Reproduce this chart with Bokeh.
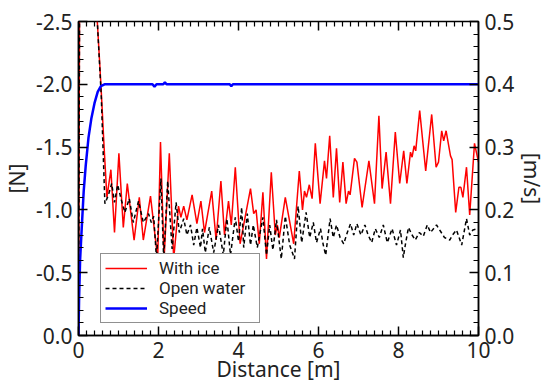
from bokeh.plotting import figure
from bokeh.models import Range1d, LinearAxis, FixedTicker, PrintfTickFormatter, Legend, LegendItem
from bokeh.embed import file_html
from bokeh.resources import INLINE

# ---- data ----
ice_x = [0, 0.03, 0.05, 0.3, 0.47, 0.56, 0.64, 0.71, 0.81, 0.90, 1.01, 1.12, 1.22, 1.39, 1.52, 1.62,
         1.80, 1.98, 2.05, 2.14, 2.27, 2.38, 2.50, 2.56, 2.63, 2.71, 2.84, 2.96, 3.06, 3.15, 3.33, 3.44,
         3.56, 3.65, 3.75, 3.82, 3.92, 4.04, 4.30, 4.38, 4.44, 4.52, 4.61, 4.70, 4.82, 4.92, 4.97, 5.02,
         5.17, 5.38, 5.52, 5.60, 5.65, 5.70, 5.77, 5.84, 5.92, 6.04, 6.15, 6.20, 6.28, 6.37, 6.45, 6.53,
         6.61, 6.69, 6.75, 6.79, 6.90, 6.96, 7.09, 7.26, 7.40, 7.51, 7.59, 7.69, 7.80, 7.92, 8.03, 8.13,
         8.21, 8.30, 8.34, 8.39, 8.43, 8.53, 8.68, 8.83, 8.94, 9.00, 9.08, 9.13, 9.19, 9.30, 9.34, 9.43,
         9.51, 9.56, 9.61, 9.70, 9.78, 9.90, 10.0]
ice_f = [0, -3.0, -3.2, -3.4, -2.5, -2.0, -1.5, -1.1, -1.32, -0.82, -1.45, -0.86, -1.21, -0.76, -1.10, -0.76,
         -1.11, -0.61, -1.54, -0.61, -1.45, -0.61, -1.03, -0.94, -1.03, -0.92, -1.12, -0.89, -1.07, -0.82, -1.15, -0.76,
         -1.23, -0.80, -1.07, -0.88, -1.34, -0.73, -1.17, -0.97, -1.00, -0.73, -1.14, -0.61, -1.30, -0.80, -0.88, -0.78,
         -1.10, -0.73, -1.31, -1.00, -1.15, -1.10, -1.20, -1.09, -1.53, -1.05, -1.39, -1.25, -1.59, -1.10, -1.49, -1.06,
         -1.38, -1.05, -1.15, -1.12, -1.41, -1.38, -1.02, -1.39, -1.05, -1.75, -1.17, -1.46, -1.05, -1.62, -1.21, -1.47,
         -1.21, -1.46, -1.42, -1.51, -1.47, -1.79, -1.31, -1.76, -1.34, -1.38, -1.63, -1.55, -1.63, -1.43, -1.40, -0.98,
         -1.18, -1.18, -1.10, -1.34, -0.96, -1.53, -1.38]

open_x = [0, 0.03, 0.05, 0.3, 0.47, 0.57, 0.66, 0.75, 0.83, 0.90, 0.98, 1.07, 1.16, 1.27, 1.37, 1.50,
          1.62, 1.75, 1.82, 1.88, 1.95, 2.06, 2.13, 2.23, 2.34, 2.44, 2.52, 2.63, 2.71, 2.80, 2.88, 2.96,
          3.05, 3.10, 3.17, 3.27, 3.38, 3.50, 3.62, 3.71, 3.80, 3.92, 4.00, 4.08, 4.13, 4.22, 4.30, 4.37,
          4.47, 4.61, 4.70, 4.78, 4.86, 4.95, 5.07, 5.17, 5.28, 5.40, 5.49, 5.58, 5.69, 5.78, 5.87, 5.95,
          6.05, 6.12, 6.18, 6.29, 6.37, 6.45, 6.54, 6.63, 6.72, 6.80, 6.88, 6.96, 7.06, 7.16, 7.24, 7.33,
          7.42, 7.52, 7.62, 7.72, 7.84, 7.95, 8.05, 8.12, 8.18, 8.25, 8.34, 8.42, 8.52, 8.62, 8.72, 8.80,
          8.95, 9.05, 9.15, 9.28, 9.35, 9.45, 9.58, 9.70, 9.78, 9.86, 9.98]
open_f = [0, -3.0, -3.2, -3.4, -2.5, -1.9, -1.05, -1.12, -1.21, -1.06, -1.20, -1.08, -0.98, -1.09, -0.90, -1.07,
          -0.90, -0.97, -0.90, -0.95, -0.61, -1.25, -0.61, -1.23, -0.69, -1.06, -0.82, -0.93, -0.80, -0.88, -0.72, -0.86,
          -0.70, -0.85, -0.66, -0.86, -0.66, -0.88, -0.64, -0.93, -0.64, -0.94, -0.75, -1.02, -0.70, -0.97, -0.72, -0.88,
          -0.70, -0.94, -0.64, -0.88, -0.68, -0.92, -0.61, -0.95, -0.72, -0.61, -1.03, -0.74, -0.98, -0.78, -0.90, -0.74,
          -0.85, -0.72, -0.64, -0.93, -0.78, -0.88, -0.78, -0.73, -0.82, -0.89, -0.80, -0.89, -0.80, -0.88, -0.80, -0.74,
          -0.85, -0.78, -0.88, -0.74, -0.85, -0.72, -0.84, -0.62, -0.74, -0.86, -0.80, -0.76, -0.82, -0.79, -0.88, -0.82,
          -0.88, -0.83, -0.78, -0.76, -0.80, -0.84, -0.72, -0.93, -0.80, -0.84, -0.85]

speed_x = [0, 0.015, 0.04, 0.08, 0.13, 0.18, 0.25, 0.32, 0.40, 0.48, 0.56, 0.65,
           1.85, 1.90, 1.95, 2.12, 2.16, 2.20, 3.78, 3.82, 3.86, 10.0]
speed_v = [0, 0.06, 0.12, 0.17, 0.23, 0.27, 0.315, 0.345, 0.37, 0.388, 0.397, 0.40,
           0.40, 0.396, 0.40, 0.40, 0.403, 0.40, 0.40, 0.397, 0.40, 0.40]

# axis ranges and tick positions
X_MIN, X_MAX = 0.0, 10.0
F_BOTTOM, F_TOP = 0.0, -2.5
V_MIN, V_MAX = 0.0, 0.5
x_ticks = [0, 2, 4, 6, 8, 10]
x_minor = [i * 0.2 for i in range(51) if i % 10 != 0]
f_ticks = [-2.5, -2.0, -1.5, -1.0, -0.5, 0.0]
f_minor = [-i * 0.1 for i in range(26) if i % 5 != 0]
v_ticks = [0.0, 0.1, 0.2, 0.3, 0.4, 0.5]
v_minor = [i * 0.02 for i in range(26) if i % 5 != 0]

FONT = "Noto Sans"
TXT = "#222222"
FRAME_W, FRAME_H = 400, 314
MAJ_PX, MIN_PX = 9, 5

p = figure(frame_width=FRAME_W, frame_height=FRAME_H,
           x_range=Range1d(X_MIN, X_MAX), y_range=Range1d(F_BOTTOM, F_TOP),
           output_backend="svg", toolbar_location=None,
           min_border_left=73, min_border_right=10, min_border_top=21, min_border_bottom=10)
p.extra_y_ranges = {"speed": Range1d(V_MIN, V_MAX)}
p.xgrid.visible = False
p.ygrid.visible = False
p.outline_line_color = "black"
p.outline_line_width = 1.5
p.background_fill_color = "white"
p.border_fill_color = "white"


def style(ax):
    ax.axis_line_color = "black"
    ax.axis_line_width = 1.5
    ax.major_tick_in = MAJ_PX
    ax.major_tick_out = 0
    ax.minor_tick_in = MIN_PX
    ax.minor_tick_out = 0
    ax.major_tick_line_color = "black"
    ax.minor_tick_line_color = "black"
    ax.major_tick_line_width = 1.5
    ax.minor_tick_line_width = 1.2
    ax.major_label_text_font = FONT
    ax.major_label_text_color = TXT
    ax.major_label_text_font_size = "21px"
    ax.axis_label_text_font = FONT
    ax.axis_label_text_font_style = "normal"
    ax.axis_label_text_color = TXT
    ax.axis_label_text_font_size = "21px"


xax = p.xaxis[0]
xax.ticker = FixedTicker(ticks=x_ticks, minor_ticks=x_minor)
xax.axis_label = "Distance [m]"
style(xax)
xax.major_label_standoff = 6
xax.axis_label_standoff = -6

yax = p.yaxis[0]
yax.ticker = FixedTicker(ticks=f_ticks, minor_ticks=f_minor)
yax.formatter = PrintfTickFormatter(format="%.1f")
yax.axis_label = "[N]"
style(yax)
yax.major_label_standoff = 6
yax.axis_label_standoff = 2

rax = LinearAxis(y_range_name="speed", ticker=FixedTicker(ticks=v_ticks, minor_ticks=v_minor),
                 formatter=PrintfTickFormatter(format="%.1f"), axis_label="[m/s]")
style(rax)
rax.major_label_standoff = 6
rax.axis_label_standoff = 1
p.add_layout(rax, "right")

r_ice = p.line(ice_x, ice_f, line_color="red", line_width=1.5)
r_open = p.line(open_x, open_f, line_color="black", line_width=1.5, line_dash="4 3")
r_speed = p.line(speed_x, speed_v, line_color="blue", line_width=2.5, y_range_name="speed")

# mirrored inward tick marks along the top edge (screen-sized thin rectangles)
for ticks, px, w in ((x_ticks, MAJ_PX, 1.5), (x_minor, MIN_PX, 1.2)):
    n = len(ticks)
    p.rect(x=ticks, y=[F_TOP] * n, width=w, height=2 * px, width_units="screen",
           height_units="screen", fill_color="black", line_color=None)

legend = Legend(items=[LegendItem(label="With ice", renderers=[r_ice]),
                       LegendItem(label="Open water", renderers=[r_open]),
                       LegendItem(label="Speed", renderers=[r_speed])],
                location=(22, 12), padding=4, margin=0, spacing=0,
                glyph_width=42, glyph_height=16, label_height=16, label_standoff=12,
                label_width=96,
                label_text_font="Roboto", label_text_font_size="17px", label_text_color=TXT,
                border_line_color="#222222", border_line_width=1.5,
                background_fill_color="white", background_fill_alpha=1.0)
p.add_layout(legend)

open("out.html", "w").write(file_html(p, INLINE))
